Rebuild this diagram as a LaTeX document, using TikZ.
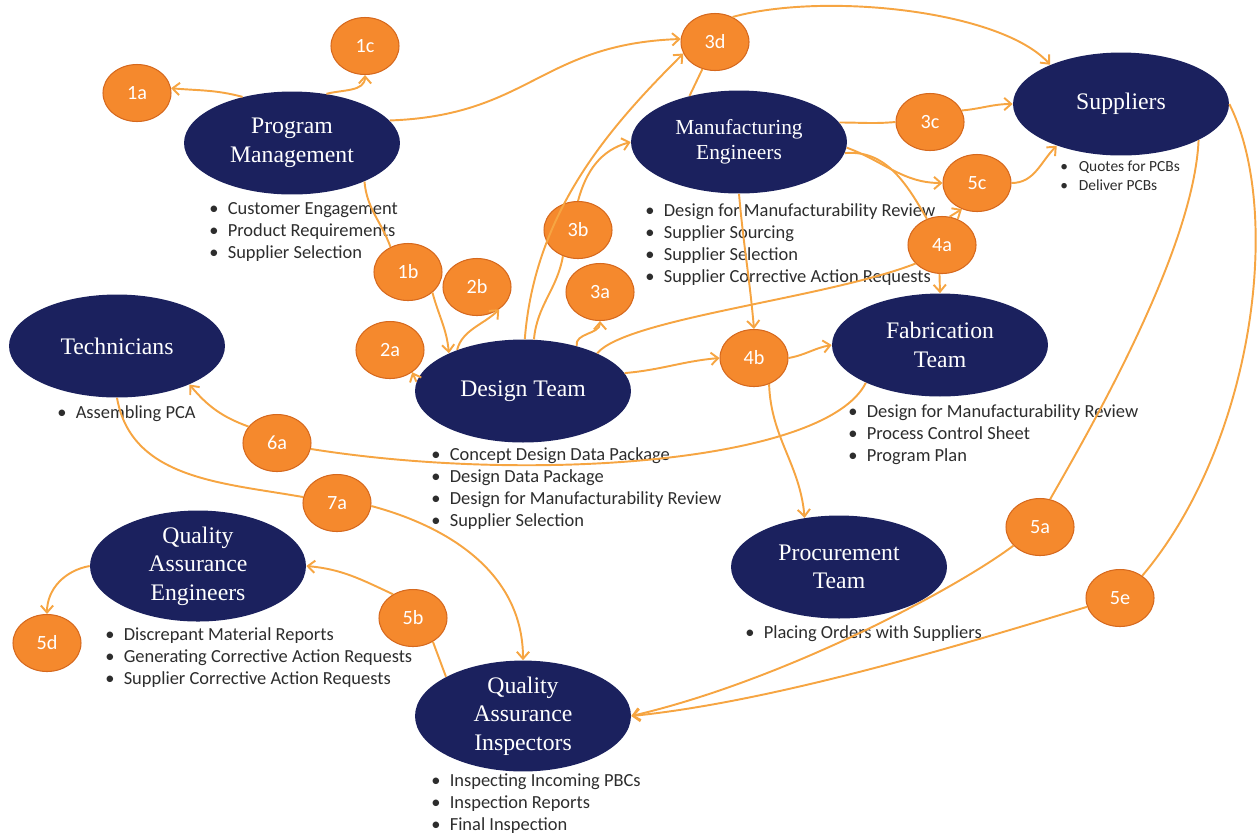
\documentclass[tikz,border=0pt]{standalone}
\usepackage{fontspec}
\setmainfont{Liberation Serif}
\newfontfamily\listfont{Carlito}
\usepackage{tikz}
\usetikzlibrary{shapes.geometric,arrows.meta}

\definecolor{teamblue}{RGB}{27,33,94}
\definecolor{tagfill}{RGB}{245,137,45}
\definecolor{tagedge}{RGB}{214,105,30}
\definecolor{flowline}{RGB}{246,165,66}
\definecolor{listgray}{RGB}{45,45,45}

\newcommand{\itm}{\makebox[10.5pt][l]{\textbullet}}

\begin{document}
\begin{tikzpicture}[x=0.02cm,y=-0.02cm]
			\tikzstyle{team} = [ellipse, fill=teamblue, text=white, minimum width=4.32cm, minimum height=2.06cm, inner sep=0pt, align=center, font=\fontsize{13.5}{16.2}\selectfont]
			\tikzstyle{tag} = [ellipse, fill=tagfill, draw=tagedge, line width=0.6pt, minimum width=1.36cm, minimum height=1.14cm, inner sep=0pt, text=white, font=\listfont\fontsize{11.5}{13}\selectfont]
			\tikzstyle{duties} = [anchor=north west, inner sep=0pt, align=left, text=listgray, font=\listfont\fontsize{10.5}{12.5}\selectfont]
			\tikzstyle{flow} = [draw=flowline, line width=1.1pt, -{Straight Barb[length=4pt,width=7pt]}]
			\tikzstyle{link} = [draw=flowline, line width=1.1pt]
			\useasboundingbox (0,0) rectangle (1257,833);

			\node[team] (pm) at (292,143) {Program\\Management};
			\node[team, font=\fontsize{12.2}{14.5}\selectfont] (me) at (739,142) {Manufacturing\\Engineers};
			\node[team] (sup) at (1121,104) {Suppliers};
			\node[team] (tech) at (117,346) {Technicians};
			\node[team] (dt) at (523,391) {Design Team};
			\node[team] (fab) at (940,345) {Fabrication\\Team};
			\node[team] (proc) at (839,567) {Procurement\\Team};
			\node[team] (qae) at (198,566) {Quality\\Assurance\\Engineers};
			\node[team] (qai) at (523,716) {Quality\\Assurance\\Inspectors};

			\node[duties] (pmlist) at (209,202) {\itm Customer Engagement\\\itm Product Requirements\\\itm Supplier Selection};
			\node[duties] (melist) at (645,203) {\itm Design for Manufacturability Review\\\itm Supplier Sourcing\\\itm Supplier Selection\\\itm Supplier Corrective Action Requests};
			\node[duties, font=\listfont\fontsize{8.8}{10.8}\selectfont] (suplist) at (1060,161) {\itm Quotes for PCBs\\\itm Deliver PCBs};
			\node[duties] (techlist) at (57,405) {\itm Assembling PCA};
			\node[duties] (dtlist) at (431,447) {\itm Concept Design Data Package\\\itm Design Data Package\\\itm Design for Manufacturability Review\\\itm Supplier Selection};
			\node[duties] (fablist) at (848,404) {\itm Design for Manufacturability Review\\\itm Process Control Sheet\\\itm Program Plan};
			\node[duties] (proclist) at (745,625) {\itm Placing Orders with Suppliers};
			\node[duties] (qaelist) at (105,627) {\itm Discrepant Material Reports\\\itm Generating Corrective Action Requests\\\itm Supplier Corrective Action Requests};
			\node[duties] (qailist) at (431,773) {\itm Inspecting Incoming PBCs\\\itm Inspection Reports\\\itm Final Inspection};

			\node[tag] (t1a) at (137,93) {1a};
			\node[tag] (t1b) at (408,272) {1b};
			\node[tag] (t1c) at (365,46) {1c};
			\node[tag] (t2a) at (390,350) {2a};
			\node[tag] (t2b) at (477,287) {2b};
			\node[tag] (t3a) at (600,292) {3a};
			\node[tag] (t3b) at (578,230) {3b};
			\node[tag] (t3c) at (930,122) {3c};
			\node[tag] (t3d) at (715,42) {3d};
			\node[tag] (t4a) at (942,245) {4a};
			\node[tag] (t4b) at (754,358) {4b};
			\node[tag] (t5a) at (1040,527) {5a};
			\node[tag] (t5b) at (413,618) {5b};
			\node[tag] (t5c) at (977,183) {5c};
			\node[tag] (t5d) at (47,643) {5d};
			\node[tag] (t5e) at (1120,598) {5e};
			\node[tag] (t6a) at (277,443) {6a};
			\node[tag] (t7a) at (337,503) {7a};

			\draw[flow] (pm.137) to[out=165,in=-5] (t1a.8);
			\draw[flow] (pm.55) to[out=15,in=-90] (t1c.south);
			\draw[flow] (pm.13) .. controls +(140,-5) and +(-140,5) .. (t3d.175);
			\draw[link] (pm.-28) to[out=-85,in=110] (t1b.125);
			\draw[flow] (t1b.-40) to[out=-75,in=95] (dt.153);
			\draw[flow] (dt.148) .. controls +(5,-20) and +(-15,15) .. (t2b.-45);
			\draw[flow] (dt.175) -- (t2a.-45);
			\draw[flow] (dt.40) to[out=100,in=-90] (t3a.south);
			\draw[flow] (dt.88) .. controls +(10,-130) and +(-70,70) .. (t3d.200);
			\draw[link] (dt.78) to[out=85,in=-100] (t3b.-120);
			\draw[flow] (t3b.north) to[out=75,in=195] (me.west);
			\draw[link] (me.137) -- (t3d.-115);
			\draw[flow] (t3d.55) .. controls +(90,-25) and +(-50,-55) .. (sup.151);
			\draw[link] (me.11) to[out=0,in=185] (t3c.west);
			\draw[flow] (t3c.20) to[out=5,in=180] (sup.west);
			\draw[flow] (me.-3) to[out=-20,in=180] (t5c.west);
			\draw[link] (me.-6) to[out=5,in=120] (t4a.120);
			\draw[flow] (t4a.-95) -- (fab.north);
			\draw[flow] (t4a.75) -- (t5c.-120);
			\draw[flow] (t5c.east) to[out=0,in=225] (sup.213);
			\draw[link] (dt.27) .. controls +(30,-35) and +(-90,35) .. (t4a.215);
			\draw[flow] (dt.10) to[out=5,in=185] (t4b.west);
			\draw[flow] (me.south) to[out=-85,in=95] (t4b.north);
			\draw[flow] (t4b.east) to[out=10,in=190] (fab.west);
			\draw[flow] (t4b.-60) to[out=-88,in=95] (proc.125);
			\draw[link] (fab.207) .. controls +(-40,80) and +(220,35) .. (t6a.-10);
			\draw[flow] (t6a.150) to[out=160,in=-50] (tech.-28);
			\draw[link] (tech.south) to[out=-80,in=170] (t7a.170);
			\draw[flow] (t7a.-5) to[out=-15,in=90] (qai.north);
			\draw[flow] (t5b.130) to[out=155,in=-5] (qae.east);
			\draw[link] (qai.153) -- (t5b.-50);
			\draw[flow] (qae.west) to[out=190,in=90] (t5d.north);
			\draw[link] (sup.-25) .. controls +(-5,110) and +(40,-70) .. (t5a.70);
			\draw[flow] (t5a.215) .. controls +(-60,45) and +(150,-35) .. (qai.east);
			\draw[link] (sup.east) .. controls +(55,110) and +(110,-130) .. (t5e.45);
			\draw[flow] (t5e.195) .. controls +(-100,30) and +(150,-15) .. (qai.east);
\end{tikzpicture}
\end{document}
